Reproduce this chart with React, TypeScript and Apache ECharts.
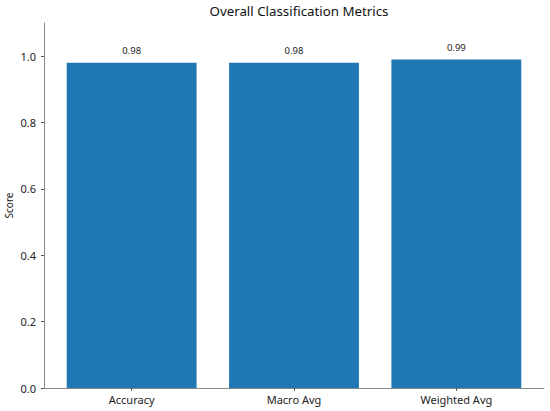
import React, { useEffect, useRef } from "react";
import * as echarts from "echarts";

const categories = ["Accuracy", "Macro Avg", "Weighted Avg"];
const scores = [0.98, 0.98, 0.99];
const yTicks = [0, 0.2, 0.4, 0.6, 0.8, 1.0];

const FONT = "'Noto Sans', 'Open Sans', sans-serif";
const BAR_HALF = 0.4;

export default function App() {
  const ref = useRef<HTMLDivElement>(null);
  useEffect(() => {
    document.body.style.margin = "0";
    if (!ref.current) return;
    const chart = echarts.init(ref.current, undefined, { renderer: "svg" });
    const positions = categories.map((_, i) => i);
    chart.setOption({
      animation: false,
      backgroundColor: "#ffffff",
      textStyle: { fontFamily: FONT },
      title: {
        text: "Overall Classification Metrics",
        left: 294,
        textAlign: "center",
        top: 0,
        padding: [4, 5, 5, 5],
        textStyle: { fontSize: 13.3, fontWeight: "normal", color: "#111", fontFamily: FONT },
      },
      graphic: [
        {
          type: "text",
          x: 9,
          y: 205.5,
          rotation: Math.PI / 2,
          style: {
            text: "Score",
            fill: "#222",
            fontSize: 10,
            fontFamily: FONT,
            align: "center",
            verticalAlign: "middle",
          },
        },
      ],
      grid: { left: 44, right: 6, top: 23, bottom: 23, containLabel: false, outerBoundsMode: "none" },
      xAxis: {
        type: "value",
        min: -0.54,
        max: 2.54,
        splitLine: { show: false },
        axisLine: { show: true, onZero: false, lineStyle: { color: "#8a8a8a", width: 1 } },
        axisTick: { show: true, customValues: positions, length: 3, lineStyle: { color: "#555" } },
        axisLabel: {
          customValues: positions,
          formatter: (v: number) => categories[Math.round(v)] ?? "",
          color: "#222",
          fontSize: 11,
          margin: 6,
          fontFamily: FONT,
        },
      },
      yAxis: {
        type: "value",
        min: 0,
        max: 1.1,
        splitLine: { show: false },
        axisLine: { show: true, onZero: false, lineStyle: { color: "#8a8a8a", width: 1 } },
        axisTick: { show: true, customValues: yTicks, length: 3, lineStyle: { color: "#555" } },
        axisLabel: {
          customValues: yTicks,
          formatter: (v: number) => v.toFixed(1),
          color: "#222",
          fontSize: 11,
          margin: 8,
          fontFamily: FONT,
        },
      },
      series: [
        {
          type: "custom",
          data: scores.map((s, i) => [i, s]),
          encode: { x: 0, y: 1 },
          renderItem: (params: any, api: any) => {
            const x = api.value(0);
            const y = api.value(1);
            const p0 = api.coord([x - BAR_HALF, y]);
            const p1 = api.coord([x + BAR_HALF, 0]);
            const pc = api.coord([x, y]);
            return {
              type: "group",
              children: [
                {
                  type: "rect",
                  shape: { x: p0[0], y: p0[1], width: p1[0] - p0[0], height: p1[1] - p0[1] },
                  style: { fill: "#1f77b4" },
                },
                {
                  type: "text",
                  x: pc[0],
                  y: pc[1] - 12,
                  style: {
                    text: y.toFixed(2),
                    fill: "#222",
                    fontSize: 9.5,
                    fontFamily: FONT,
                    align: "center",
                    verticalAlign: "middle",
                  },
                },
              ],
            };
          },
        },
      ],
    });
    return () => chart.dispose();
  }, []);
  return <div ref={ref} style={{ width: 550, height: 411 }} />;
}
